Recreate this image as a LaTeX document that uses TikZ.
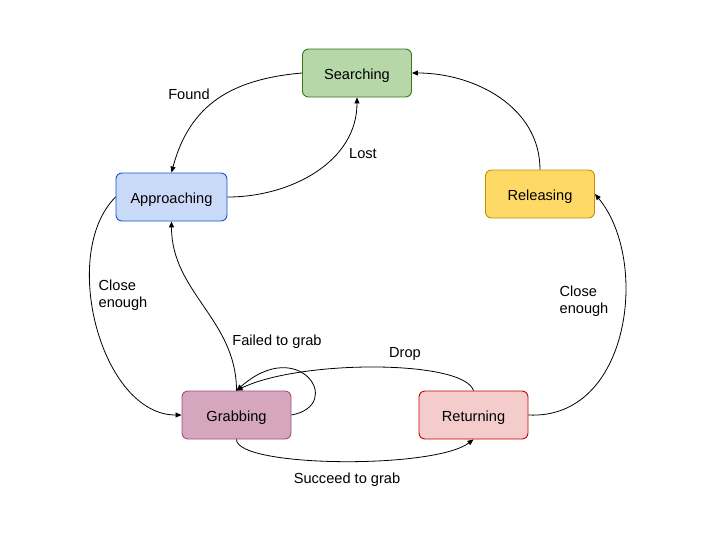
\documentclass[tikz,border=0pt]{standalone}
\usepackage{fontspec}
\setmainfont{Liberation Sans}
\usetikzlibrary{arrows.meta, positioning}
\definecolor{searchfill}{HTML}{B6D7A8}\definecolor{searchline}{HTML}{38761D}
\definecolor{approachfill}{HTML}{C9DAF8}\definecolor{approachline}{HTML}{1155CC}
\definecolor{releasefill}{HTML}{FFD966}\definecolor{releaseline}{HTML}{BF9000}
\definecolor{grabfill}{HTML}{D5A6BD}\definecolor{grabline}{HTML}{A64D79}
\definecolor{returnfill}{HTML}{F4CCCC}\definecolor{returnline}{HTML}{CC0000}
\newcommand\txtsize{\fontsize{14.6}{17}\selectfont}

\begin{document}
\begin{tikzpicture}[x=1pt,y=1pt,
  state/.style={draw, line width=0.9pt, rounded corners=6pt, minimum width=109pt, minimum height=48pt, text height=12pt, text depth=0pt, font=\txtsize},
  lbl/.style={font=\txtsize, align=left, inner sep=0pt},
  edge/.style={line width=0.8pt, -{Triangle[length=6pt,width=5pt]}}]
\useasboundingbox (0,0) rectangle (712,-547);
\node[state, fill=searchfill, draw=searchline] (search) at (357,-73) {Searching};
\node[state, fill=approachfill, draw=approachline, minimum width=111pt] (approach) at (171.5,-197) {Approaching};
\node[state, fill=releasefill, draw=releaseline] (release) at (540,-194) {Releasing};
\node[state, fill=grabfill, draw=grabline] (grab) at (236.5,-415) {Grabbing};
\node[state, fill=returnfill, draw=returnline] (return) at (473.5,-415) {Returning};

\draw[edge] (search.west) to[out=185,in=75,looseness=1.1] (approach.north);
\draw[edge] (approach.east) to[out=0,in=-90] (search.south);
\draw[edge] (release.north) to[out=90,in=0] (search.east);
\draw[edge] (return.east) .. controls +(102,-5) and +(55,-66) .. (release.east);
\draw[edge] (approach.west) to[out=225,in=180,looseness=0.9] (grab.west);
\draw[edge] (grab.north) to[out=90,in=-90] (approach.south);
\draw[edge] (grab.east) .. controls +(54,10) and +(63,56) .. (grab.north);
\draw[edge] (return.north) .. controls +(-10,31) and +(63,31) .. (grab.north);
\draw[edge] (grab.south) .. controls +(0,-28) and +(-40,-30) .. (return.south);

\node[lbl] (found) at (189,-94) {Found};
\node[lbl] (lost) at (363,-154) {Lost};
\node[lbl] (closeleft) at (123,-295) {Close\\enough};
\node[lbl] (failed) at (277,-342) {Failed to grab};
\node[lbl] (drop) at (405,-354) {Drop};
\node[lbl] (succeed) at (347,-480) {Succeed to grab};
\node[lbl] (closeright) at (584,-301) {Close\\enough};
\end{tikzpicture}
\end{document}
